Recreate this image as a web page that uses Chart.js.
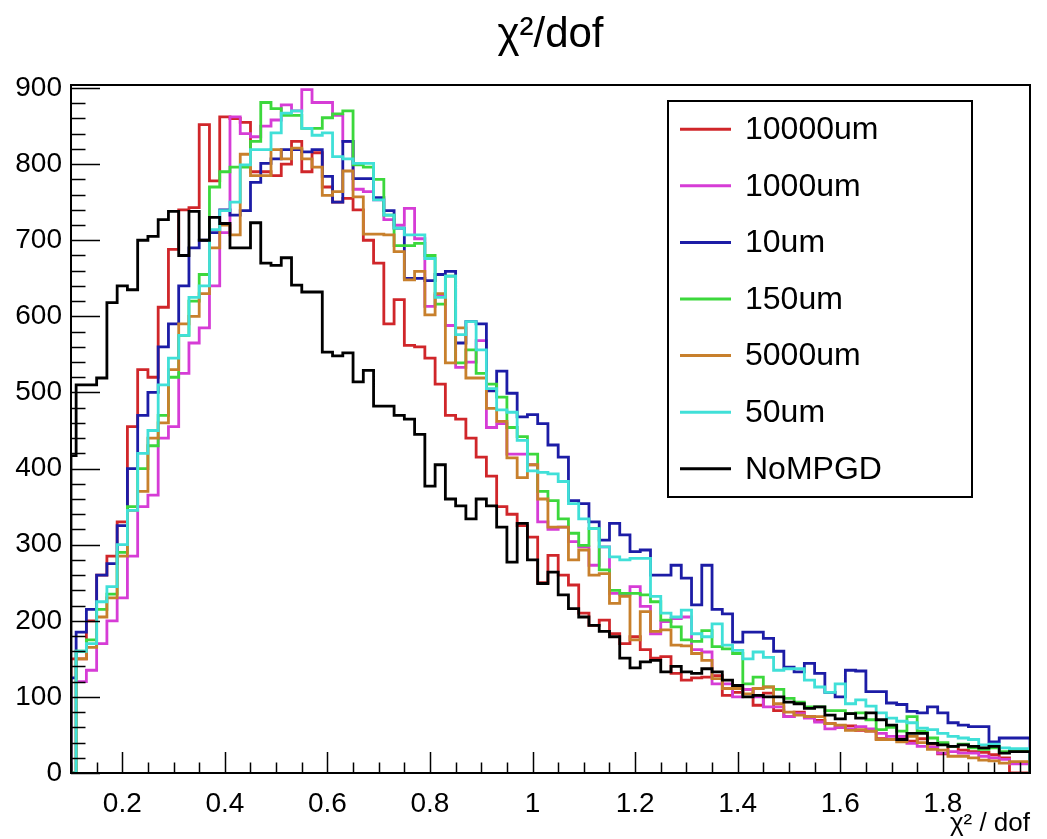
<!DOCTYPE html>
<html>
<head>
<meta charset="utf-8">
<title>chi2/dof</title>
<script src="https://cdn.jsdelivr.net/npm/chart.js@4.4.1/dist/chart.umd.min.js"></script>
<style>
  html, body { margin: 0; padding: 0; background: #fff; }
</style>
</head>
<body>
<canvas id="chi2" width="1047" height="839"></canvas>
<script>
// histogram binning: width 0.02, first bin centred on 0.10 (cut at the frame)
const binStart = 0.09;
const binWidth = 0.02;
const xMin = 0.1;
const xMax = 1.97;
const yMax = 904;

const seriesNames = ["10000um", "1000um", "10um", "150um", "5000um", "50um", "NoMPGD"];
const seriesColors = ["#d0262a", "#d63cd6", "#1c1ca6", "#3cd83c", "#c8802c", "#40e0d8", "#000000"];

// bin contents, bins 0.10, 0.12, ... 1.96
const um10000 = [0, 150, 150, 200, 260, 285, 330, 455, 530, 520, 612, 688, 740, 743, 852, 778, 862,
  860, 855, 790, 790, 785, 800, 830, 790, 815, 770, 750, 755, 740, 700, 670,
  590, 622, 562, 560, 545, 511, 470, 465, 440, 415, 390, 350, 340, 325, 310,
  250, 286, 260, 247, 210, 194, 201, 183, 170, 179, 162, 151, 153, 131, 122, 125,
  126, 128, 102, 106, 110, 89, 105, 82, 74, 80, 74, 69, 65, 60, 62,
  56, 55, 45, 44, 48, 42, 45, 38, 25, 35, 30, 28, 27, 24, 20, 0];
const um1000 = [0, 0, 120, 135, 170, 200, 230, 285, 350, 365, 440, 455, 525, 565, 585, 640, 710,
  862, 840, 836, 850, 858, 878, 870, 898, 881, 881, 864, 830, 767, 764, 753,
  727, 720, 742, 702, 613, 628, 588, 533, 540, 568, 454, 459, 419, 419, 405,
  330, 320, 323, 304, 297, 273, 297, 236, 234, 245, 219, 183, 199, 203, 205, 162,
  159, 117, 117, 100, 110, 100, 87, 87, 74, 78, 72, 67, 58, 60, 58,
  61, 58, 52, 48, 48, 39, 35, 34, 26, 28, 26, 26, 22, 20, 18, 12];
const um10 = [0, 125, 185, 215, 260, 275, 325, 400, 470, 500, 560, 590, 640, 690, 700, 710, 740,
  733, 739, 776, 801, 807, 819, 819, 816, 819, 784, 750, 830, 781, 781, 756,
  739, 716, 650, 650, 647, 655, 659, 565, 593, 590, 502, 528, 499, 468, 471,
  459, 431, 415, 358, 354, 330, 306, 328, 313, 291, 293, 260, 260, 273, 256, 221,
  273, 215, 209, 172, 185, 185, 177, 160, 139, 133, 144, 131, 106, 100, 135,
  134, 107, 107, 92, 90, 81, 79, 87, 79, 66, 63, 61, 61, 41, 46, 46];
const um150 = [0, 0, 160, 175, 215, 235, 290, 350, 400, 430, 470, 520, 575, 620, 655, 770, 790,
  796, 796, 830, 881, 873, 864, 864, 847, 847, 861, 866, 870, 799, 796, 780,
  733, 693, 693, 696, 680, 616, 653, 539, 556, 525, 511, 494, 454, 442, 419,
  370, 358, 334, 315, 299, 321, 267, 240, 236, 236, 234, 225, 201, 192, 175, 173,
  187, 166, 163, 157, 117, 126, 113, 110, 98, 93, 87, 87, 82, 82, 78,
  79, 70, 57, 60, 55, 74, 55, 46, 40, 35, 38, 33, 31, 33, 28, 30];
const um5000 = [0, 0, 150, 165, 205, 230, 285, 345, 370, 440, 460, 530, 590, 600, 630, 690, 720,
  707, 813, 785, 785, 819, 807, 821, 807, 796, 759, 764, 791, 757, 708, 708,
  707, 685, 648, 659, 602, 630, 539, 585, 519, 519, 479, 462, 414, 388, 405,
  360, 323, 323, 280, 293, 260, 262, 223, 232, 175, 212, 186, 188, 168, 167, 157,
  148, 124, 111, 111, 104, 111, 113, 91, 80, 76, 74, 74, 65, 63, 56,
  57, 55, 44, 44, 41, 48, 40, 31, 30, 22, 22, 20, 17, 16, 13, 15];
const um50 = [0, 0, 160, 170, 225, 245, 300, 345, 420, 450, 510, 545, 575, 625, 640, 714, 739,
  750, 799, 819, 819, 841, 867, 870, 847, 838, 841, 810, 807, 801, 801, 753,
  733, 716, 707, 707, 676, 625, 653, 576, 593, 556, 505, 477, 474, 437, 397,
  395, 393, 383, 354, 334, 321, 297, 284, 280, 282, 282, 232, 210, 205, 214, 183,
  179, 196, 168, 161, 150, 159, 152, 135, 137, 137, 122, 113, 106, 117, 91,
  96, 88, 79, 72, 68, 66, 59, 57, 52, 48, 46, 44, 37, 38, 33, 32];
const noMPGD = [383, 417, 510, 510, 519, 618, 640, 635, 700, 705, 727, 738, 680, 738, 700, 730, 722,
  690, 690, 723, 670, 667, 677, 641, 632, 632, 553, 548, 552, 514, 529, 482,
  482, 470, 465, 445, 377, 405, 360, 351, 334, 360, 351, 323, 277, 328, 280,
  249, 264, 234, 216, 205, 194, 186, 179, 151, 138, 146, 148, 133, 140, 133, 131,
  137, 133, 122, 115, 100, 102, 100, 100, 93, 91, 85, 87, 76, 71, 78,
  72, 79, 70, 63, 44, 52, 52, 39, 37, 35, 37, 35, 33, 35, 26, 28];

const seriesCounts = [um10000, um1000, um10, um150, um5000, um50, noMPGD];

const xTicks = [0.2, 0.4, 0.6, 0.8, 1.0, 1.2, 1.4, 1.6, 1.8];
const yTicks = [0, 100, 200, 300, 400, 500, 600, 700, 800, 900];
const xMinorStep = 0.05;
const yMinorStep = 20;

const fontFamily = "'Liberation Sans', Arial, Helvetica, sans-serif";

// turn bin contents into an outline: points at left bin edges, stepped
const toOutline = (counts) => {
  const pts = [{ x: xMin, y: 0 }];
  counts.forEach((c, i) => {
    pts.push({ x: Math.max(xMin, binStart + i * binWidth), y: c });
  });
  pts.push({ x: xMax, y: counts[counts.length - 1] });
  pts.push({ x: xMax, y: 0 });
  return pts;
};

const datasets = seriesNames.map((name, i) => ({
  label: name,
  data: toOutline(seriesCounts[i]),
  borderColor: seriesColors[i],
  borderWidth: 2.8,
  stepped: "after",
  pointRadius: 0,
  fill: false,
  // later legend entries are drawn on top, as in the original
  order: seriesNames.length - i,
}));

const isMultiple = (v, step) => Math.abs(v / step - Math.round(v / step)) < 1e-6;

// ROOT style frame with ticks pointing into the plot
const frameTicks = {
  id: "frameTicks",
  afterDatasetsDraw(chart) {
    const { ctx, chartArea: a, scales: { x, y } } = chart;
    ctx.save();
    ctx.strokeStyle = "#000";
    ctx.lineWidth = 1.5;
    ctx.beginPath();
    for (let k = Math.ceil(xMin / xMinorStep - 1e-9); k * xMinorStep <= xMax + 1e-9; k++) {
      const v = k * xMinorStep;
      const px = Math.round(x.getPixelForValue(v)) + 0.5;
      ctx.moveTo(px, a.bottom);
      ctx.lineTo(px, a.bottom - (isMultiple(v, 0.2) ? 21 : 10.5));
    }
    for (let v = 0; v <= yMax; v += yMinorStep) {
      const py = Math.round(y.getPixelForValue(v)) + 0.5;
      ctx.moveTo(a.left, py);
      ctx.lineTo(a.left + (isMultiple(v, 100) ? 29 : 14.5), py);
    }
    ctx.stroke();
    ctx.lineWidth = 2;
    ctx.strokeRect(a.left, a.top, a.right - a.left, a.bottom - a.top);
    ctx.restore();
  },
};

// boxed legend in the upper right, like TLegend
const boxLegend = {
  id: "boxLegend",
  afterDraw(chart) {
    const { ctx } = chart;
    const box = { left: 668, top: 101, width: 304, height: 396 };
    const rowH = box.height / chart.data.datasets.length;
    ctx.save();
    ctx.fillStyle = "#fff";
    ctx.fillRect(box.left, box.top, box.width, box.height);
    ctx.strokeStyle = "#000";
    ctx.lineWidth = 2;
    ctx.strokeRect(box.left, box.top, box.width, box.height);
    ctx.font = "32px " + fontFamily;
    ctx.textBaseline = "middle";
    ctx.textAlign = "left";
    chart.data.datasets.forEach((ds, i) => {
      const cy = box.top + rowH * (i + 0.5);
      ctx.strokeStyle = ds.borderColor;
      ctx.lineWidth = 3;
      ctx.beginPath();
      ctx.moveTo(box.left + 12, cy);
      ctx.lineTo(box.left + 63, cy);
      ctx.stroke();
      ctx.fillStyle = "#000";
      ctx.fillText(ds.label, box.left + 77, cy + 1);
    });
    ctx.restore();
  },
};

new Chart(document.getElementById("chi2"), {
  type: "line",
  data: { datasets },
  options: {
    responsive: false,
    animation: false,
    devicePixelRatio: 1,
    layout: { padding: { left: 0, right: 17, top: 0, bottom: 0 } },
    plugins: {
      legend: { display: false },
      tooltip: { enabled: false },
      title: {
        display: true,
        fullSize: false,
        text: "χ²/dof",
        color: "#000",
        font: { family: fontFamily, size: 42, weight: "normal" },
        padding: { top: 10, bottom: 24.6 },
      },
    },
    scales: {
      x: {
        type: "linear",
        min: xMin,
        max: xMax,
        grid: { display: false, drawTicks: false },
        border: { display: false },
        afterBuildTicks: (s) => { s.ticks = xTicks.map((v) => ({ value: v })); },
        afterFit: (s) => { s.height = 66; },
        ticks: {
          color: "#000",
          font: { family: fontFamily, size: 28 },
          padding: 14,
          maxRotation: 0,
          autoSkip: false,
          callback: (v) => String(Number(v.toFixed(1))),
        },
        title: {
          display: true,
          text: "χ² / dof",
          align: "end",
          color: "#000",
          font: { family: fontFamily, size: 26 },
          padding: { top: 0, bottom: 0 },
        },
      },
      y: {
        min: 0,
        max: yMax,
        grid: { display: false, drawTicks: false },
        border: { display: false },
        afterBuildTicks: (s) => { s.ticks = yTicks.map((v) => ({ value: v })); },
        afterFit: (s) => { s.width = 71; },
        ticks: {
          color: "#000",
          font: { family: fontFamily, size: 28 },
          padding: 9,
          autoSkip: false,
        },
      },
    },
  },
  plugins: [frameTicks, boxLegend],
});
</script>
</body>
</html>
